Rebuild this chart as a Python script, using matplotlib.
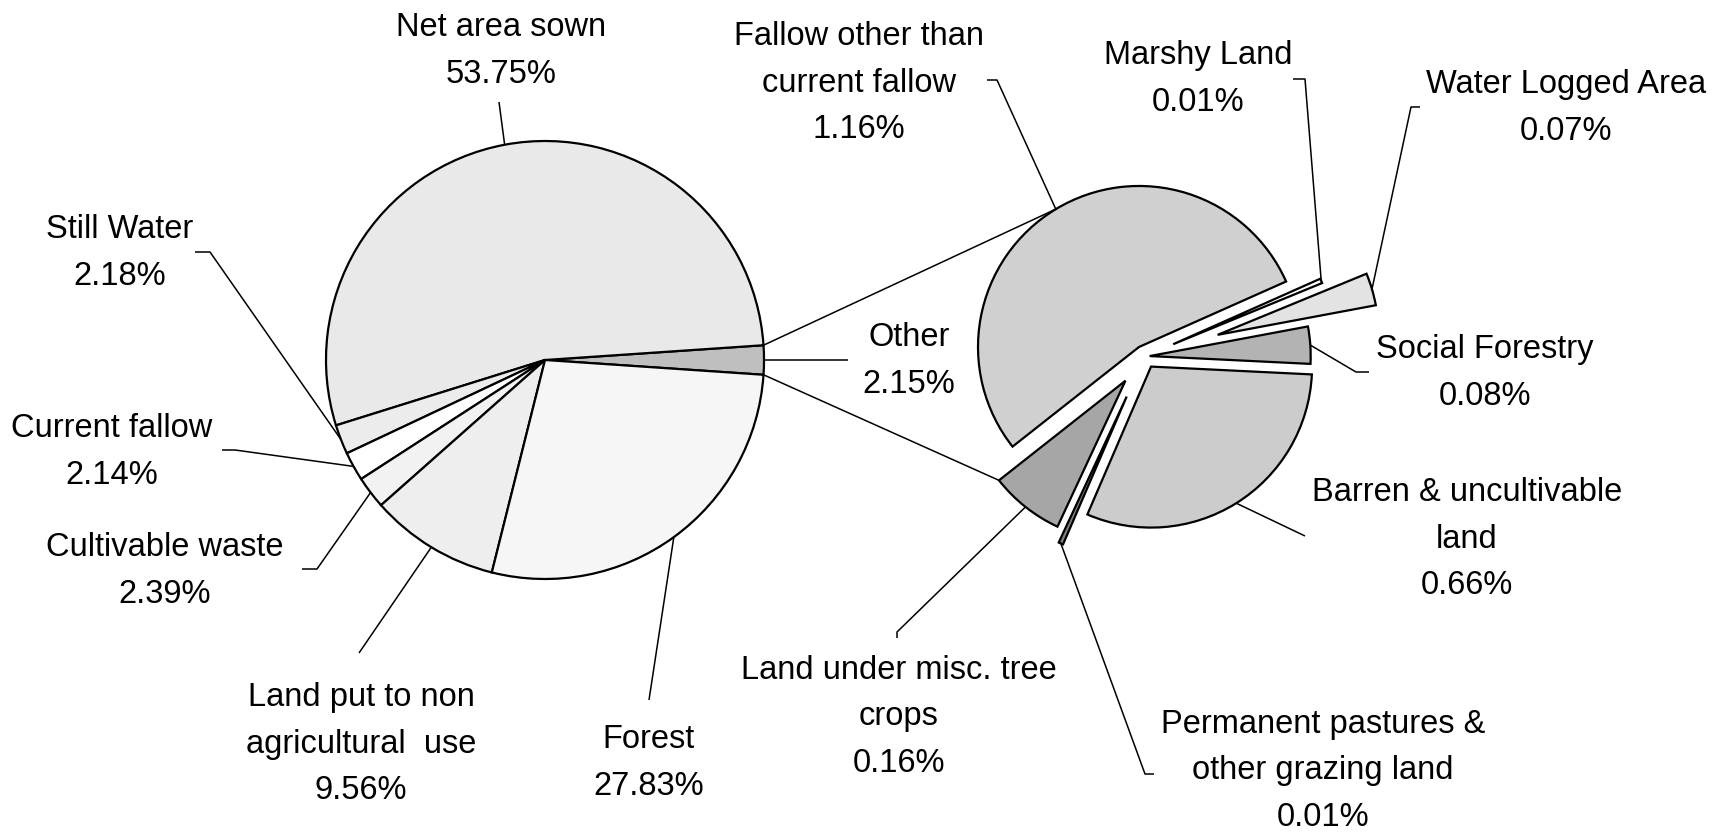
import matplotlib
matplotlib.use("Agg")
import matplotlib.pyplot as plt
import numpy as np

# main pie (counter-clockwise from the "Other" wedge)
main_names = ["Other", "Net area sown", "Still Water", "Current fallow",
              "Cultivable waste", "Land put to non\nagricultural  use", "Forest"]
main_values = [2.15, 53.75, 2.18, 2.14, 2.39, 9.56, 27.83]

# breakdown of "Other" (counter-clockwise from fallow)
sub_names = ["Fallow other than\ncurrent fallow", "Land under misc. tree\ncrops",
             "Permanent pastures &\nother grazing land", "Barren & uncultivable\nland",
             "Social Forestry", "Water Logged Area", "Marshy Land"]
sub_values = [1.16, 0.16, 0.01, 0.66, 0.08, 0.07, 0.01]

W, H = 1715, 833

main_colors = ["#bfbfbf", "#e9e9e9", "#ececec", "#ffffff", "#f2f2f2", "#eeeeee", "#f6f6f6"]
sub_colors = ["#d0d0d0", "#a6a6a6", "#808080", "#cccccc", "#b3b3b3", "#e3e3e3", "#ffffff"]
sub_explode = [11, 31, 44, 12, 5, 76, 31]

# label layout in image pixels (y down): text centre, leader points (label side)
main_layout = [
    ((909, 361), [(848, 360)]),
    ((501, 51), [(499, 102)]),
    ((120, 253), [(210, 252), (195, 252)]),
    ((112, 452), [(235, 450), (222, 450)]),
    ((165, 571), [(317, 569), (302, 569)]),
    ((361, 744), [(359, 653)]),
    ((649, 763), [(649, 700)]),
]
sub_layout = [
    ((859, 83), [(997, 80), (987, 80)]),
    ((899, 717), [(897, 632), (897, 638)]),
    ((1323, 771), [(1145, 774), (1154, 774)]),
    ((1467, 539), [(1305, 536)]),
    ((1485, 373), [(1356, 372), (1369, 372)]),
    ((1566, 108), [(1411, 107), (1420, 107)]),
    ((1198, 79), [(1305, 79), (1293, 79)]),
]

plt.rcParams["font.family"] = ["Liberation Sans", "DejaVu Sans"]

fig = plt.figure(figsize=(W / 100, H / 100), dpi=100)
ax = fig.add_axes([0, 0, 1, 1])

edge = dict(edgecolor="black", linewidth=1.6)
frac0 = main_values[0] / sum(main_values) * 360
w1, _ = ax.pie(main_values, radius=219, center=(545, H - 360), startangle=-frac0 / 2,
               colors=main_colors, wedgeprops=edge)
w2, _ = ax.pie(sub_values, radius=161, center=(1144.7, H - 356.4), startangle=24,
               colors=sub_colors, explode=sub_explode, wedgeprops=edge)


def arc_point(w, ang=None):
    if ang is None:
        ang = (w.theta1 + w.theta2) / 2
    a = np.deg2rad(ang)
    return w.center[0] + w.r * np.cos(a), w.center[1] + w.r * np.sin(a)


def label(w, name, val, layout):
    (tx, ty), pts = layout
    p0 = arc_point(w)
    xs = [p0[0]] + [p[0] for p in pts]
    ys = [p0[1]] + [H - p[1] for p in pts]
    ax.plot(xs, ys, color="black", lw=1.1, solid_capstyle="butt")
    ax.text(tx, H - ty, f"{name}\n{val:.2f}%", ha="center", va="center",
            fontsize=23.5, linespacing=1.65, multialignment="center")


for w, n, v, lay in zip(w1, main_names, main_values, main_layout):
    label(w, n, v, lay)
for w, n, v, lay in zip(w2, sub_names, sub_values, sub_layout):
    label(w, n, v, lay)

# connector lines from "Other" wedge to the breakdown pie
other = w1[0]
top_a = arc_point(other, other.theta2)
bot_a = arc_point(other, other.theta1)
top_b = arc_point(w2[0])
bot_b = arc_point(w2[1], w2[1].theta1)
ax.plot([top_a[0], top_b[0]], [top_a[1], top_b[1]], color="black", lw=1.1)
ax.plot([bot_a[0], bot_b[0]], [bot_a[1], bot_b[1]], color="black", lw=1.1)

ax.set_xlim(0, W)
ax.set_ylim(0, H)
ax.set_aspect("equal")
ax.axis("off")

fig.savefig("out.png", dpi=100, facecolor="white")
